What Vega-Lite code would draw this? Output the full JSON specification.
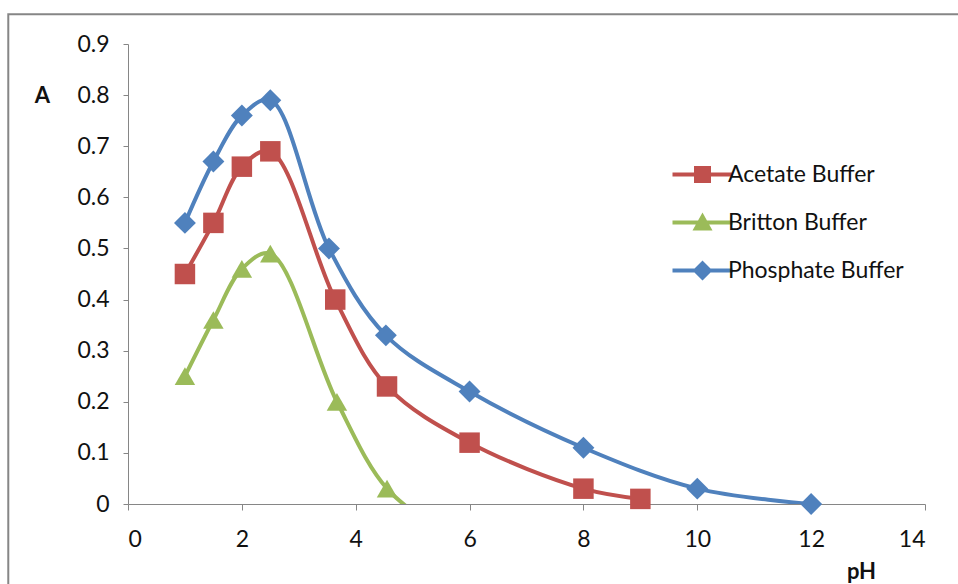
{
  "$schema": "https://vega.github.io/schema/vega-lite/v6.json",
  "width": 797,
  "height": 460,
  "autosize": "none",
  "padding": {"left": 128, "top": 44, "right": 33, "bottom": 80},
  "background": "white",
  "config": {
    "view": {"stroke": null},
    "font": "Lato",
    "axis": {
      "grid": false,
      "domainColor": "#868686",
      "tickColor": "#868686",
      "labelFont": "Lato",
      "labelFontSize": 23,
      "labelColor": "#111111",
      "titleFont": "Lato",
      "titleFontSize": 22,
      "titleFontWeight": "bold",
      "titleColor": "#111111"
    }
  },
  "datasets": {
    "main": [
      {"series": "Acetate Buffer", "pH": 1, "A": 0.45},
      {"series": "Acetate Buffer", "pH": 1.5, "A": 0.55},
      {"series": "Acetate Buffer", "pH": 2, "A": 0.66},
      {"series": "Acetate Buffer", "pH": 2.5, "A": 0.69},
      {"series": "Acetate Buffer", "pH": 3.64, "A": 0.40},
      {"series": "Acetate Buffer", "pH": 4.55, "A": 0.23},
      {"series": "Acetate Buffer", "pH": 6, "A": 0.12},
      {"series": "Acetate Buffer", "pH": 8, "A": 0.03},
      {"series": "Acetate Buffer", "pH": 9, "A": 0.01},
      {"series": "Britton Buffer", "pH": 1, "A": 0.25},
      {"series": "Britton Buffer", "pH": 1.5, "A": 0.36},
      {"series": "Britton Buffer", "pH": 2, "A": 0.46},
      {"series": "Britton Buffer", "pH": 2.5, "A": 0.49},
      {"series": "Britton Buffer", "pH": 3.67, "A": 0.20},
      {"series": "Britton Buffer", "pH": 4.55, "A": 0.03},
      {"series": "Britton Buffer", "pH": 5.6, "A": -0.06, "hidden": true},
      {"series": "Phosphate Buffer", "pH": 1, "A": 0.55},
      {"series": "Phosphate Buffer", "pH": 1.5, "A": 0.67},
      {"series": "Phosphate Buffer", "pH": 2, "A": 0.76},
      {"series": "Phosphate Buffer", "pH": 2.5, "A": 0.79},
      {"series": "Phosphate Buffer", "pH": 3.53, "A": 0.50},
      {"series": "Phosphate Buffer", "pH": 4.53, "A": 0.33},
      {"series": "Phosphate Buffer", "pH": 6, "A": 0.22},
      {"series": "Phosphate Buffer", "pH": 8, "A": 0.11},
      {"series": "Phosphate Buffer", "pH": 10, "A": 0.03},
      {"series": "Phosphate Buffer", "pH": 12, "A": 0.0}
    ],
    "frame": [{"x1": -2.103, "x2": 16, "y1": 0.958, "y2": -0.3}]
  },
  "layer": [
    {
      "data": {"name": "main"},
      "mark": {"type": "line", "strokeWidth": 4, "interpolate": "catmull-rom", "clip": true},
      "encoding": {
        "x": {"field": "pH", "type": "quantitative", "scale": {"domain": [0, 14], "nice": false},
          "axis": {"values": [0, 2, 4, 6, 8, 10, 12, 14], "format": "d", "tickSize": 6, "labelPadding": 18, "title": "pH", "titleX": 733, "titleY": 67, "titleAlign": "center", "titleBaseline": "middle"}},
        "y": {"field": "A", "type": "quantitative", "scale": {"domain": [0, 0.9], "nice": false},
          "axis": {"values": [0, 0.1, 0.2, 0.3, 0.4, 0.5, 0.6, 0.7, 0.8, 0.9], "format": "~g", "tickSize": 5, "labelPadding": 14, "title": "A", "titleAngle": 0, "titleX": -86, "titleY": 51, "titleAlign": "center", "titleBaseline": "middle"}},
        "color": {"field": "series", "type": "nominal",
          "scale": {"domain": ["Acetate Buffer", "Britton Buffer", "Phosphate Buffer"], "range": ["#C0504D", "#9BBB59", "#4F81BD"]}},
        "order": {"field": "pH", "type": "quantitative"}
      }
    },
    {
      "data": {"name": "frame"},
      "mark": {"type": "rect", "fill": null, "stroke": "#868686", "strokeWidth": 2, "clip": false},
      "encoding": {
        "x": {"field": "x1", "type": "quantitative", "title": "pH"},
        "x2": {"field": "x2"},
        "y": {"field": "y1", "type": "quantitative", "title": "A"},
        "y2": {"field": "y2"}
      }
    },
    {
      "data": {"name": "main"},
      "transform": [{"filter": "datum.series === 'Acetate Buffer'"}],
      "mark": {"type": "point", "shape": "square", "filled": true, "size": 420, "opacity": 1, "color": "#C0504D"},
      "encoding": {
        "x": {"field": "pH", "type": "quantitative"},
        "y": {"field": "A", "type": "quantitative"}
      }
    },
    {
      "data": {"name": "main"},
      "transform": [{"filter": "datum.series === 'Britton Buffer' && !datum.hidden"}],
      "mark": {"type": "point", "shape": "triangle-up", "filled": true, "size": 420, "opacity": 1, "color": "#9BBB59"},
      "encoding": {
        "x": {"field": "pH", "type": "quantitative"},
        "y": {"field": "A", "type": "quantitative"}
      }
    },
    {
      "data": {"name": "main"},
      "transform": [{"filter": "datum.series === 'Phosphate Buffer'"}],
      "mark": {"type": "point", "shape": "diamond", "filled": true, "size": 480, "opacity": 1, "color": "#4F81BD"},
      "encoding": {
        "x": {"field": "pH", "type": "quantitative"},
        "y": {"field": "A", "type": "quantitative"}
      }
    },
    {
      "data": {"name": "main"},
      "transform": [{"filter": "!datum.hidden"}],
      "mark": {"type": "point", "filled": true, "size": 400, "opacity": 0},
      "encoding": {
        "x": {"field": "pH", "type": "quantitative"},
        "y": {"field": "A", "type": "quantitative"},
        "color": {"field": "series", "type": "nominal",
          "legend": {"orient": "none", "legendX": 563, "legendY": 119, "title": null, "padding": 0,
            "symbolSize": 400, "labelFont": "Lato", "labelFontSize": 23, "labelColor": "#111111",
            "labelOffset": 14, "rowPadding": 24, "labelLimit": 400, "symbolOpacity": 1,
            "encode": {"symbols": {"update": {"fill": {"scale": "color", "field": "value"}, "strokeWidth": {"value": 0}, "opacity": {"value": 1}}}}}},
        "shape": {"field": "series", "type": "nominal",
          "scale": {"domain": ["Acetate Buffer", "Britton Buffer", "Phosphate Buffer"],
            "range": ["M-3,-0.2H3V0.2H-3Z M-0.85,-0.85H0.85V0.85H-0.85Z", "M-3,-0.2H3V0.2H-3Z M0,-1L1,0.8H-1Z", "M-3,-0.2H3V0.2H-3Z M0,-1L1,0L0,1L-1,0Z"]}}
      }
    }
  ]
}
